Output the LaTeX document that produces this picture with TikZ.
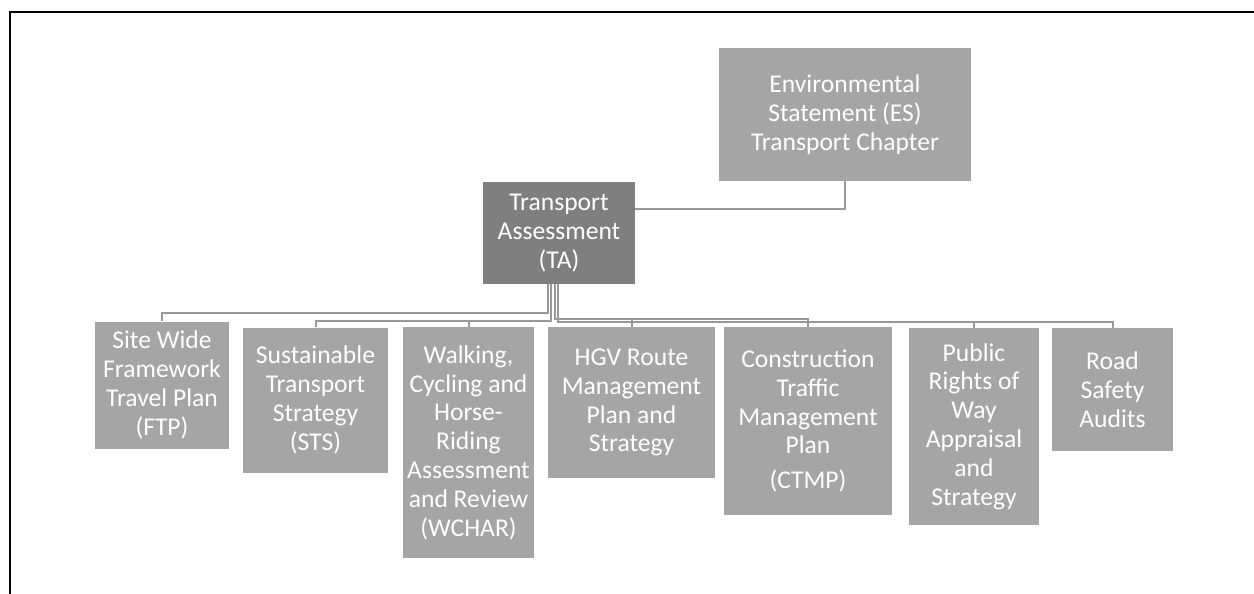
\documentclass[tikz,border=0pt]{standalone}
\usepackage{fontspec}
\setmainfont{Carlito}
\definecolor{boxgray}{HTML}{A5A5A5}
\definecolor{darkbox}{HTML}{7F7F7F}
\definecolor{linegray}{HTML}{999999}

\begin{document}
\begin{tikzpicture}[x=0.5pt,y=-0.5pt,
  box/.style={fill=boxgray,text=white,align=center,inner sep=1pt,
    font=\fontsize{12.8}{14.4}\selectfont},
  link/.style={draw=linegray,line width=1pt}]
  \useasboundingbox (0,0) rectangle (1254,594);
  \draw[line width=0.7pt] (10,594) -- (10,12) -- (1254,12);

  \node[box,minimum width=126pt,minimum height=66.5pt] (ES) at (845,114.5)
    {Environmental\\Statement (ES)\\Transport Chapter};
  \node[box,fill=darkbox,minimum width=76pt,minimum height=51pt] (TA) at (559,233)
    {Transport\\Assessment\\(TA)};

  \node[box,minimum width=67pt,minimum height=63.5pt] (FTP) at (162,385)
    {Site Wide\\Framework\\Travel Plan\\(FTP)};
  \node[box,minimum width=72.5pt,minimum height=72.5pt] (STS) at (315.5,400)
    {Sustainable\\Transport\\Strategy\\(STS)};
  \node[box,minimum width=65.5pt,minimum height=115.5pt] (WCHAR) at (468.5,442.5)
    {Walking,\\Cycling and\\Horse-\\Riding\\Assessment\\and Review\\(WCHAR)};
  \node[box,minimum width=83.5pt,minimum height=75.5pt] (HGV) at (631.5,402.5)
    {HGV Route\\Management\\Plan and\\Strategy};
  \node[box,minimum width=84pt,minimum height=94pt] (CTMP) at (808,421)
    {Construction\\Traffic\\Management\\Plan\\[3pt](CTMP)};
  \node[box,minimum width=65pt,minimum height=98.5pt] (PROW) at (974,426.5)
    {Public\\Rights of\\Way\\Appraisal\\and\\Strategy};
  \node[box,minimum width=60.5pt,minimum height=61.5pt] (RSA) at (1112.5,389.5)
    {Road\\Safety\\Audits};

  \draw[link] (ES.south) |- ([yshift=12pt]TA.east);
  \draw[link] ([xshift=-5.5pt]TA.south) -- ++(0,29) -| (FTP.north);
  \draw[link] ([xshift=-4pt]TA.south) -- ++(0,37) -| (STS.north);
  \draw[link] ([xshift=-4pt]TA.south) -- ++(0,37) -| (WCHAR.north);
  \draw[link] ([xshift=-2pt]TA.south) -- ++(0,35) -| (HGV.north);
  \draw[link] ([xshift=-2pt]TA.south) -- ++(0,35) -| (CTMP.north);
  \draw[link] ([xshift=-0.5pt]TA.south) -- ++(0,38) -| (PROW.north);
  \draw[link] ([xshift=-0.5pt]TA.south) -- ++(0,38) -| (RSA.north);
\end{tikzpicture}
\end{document}
